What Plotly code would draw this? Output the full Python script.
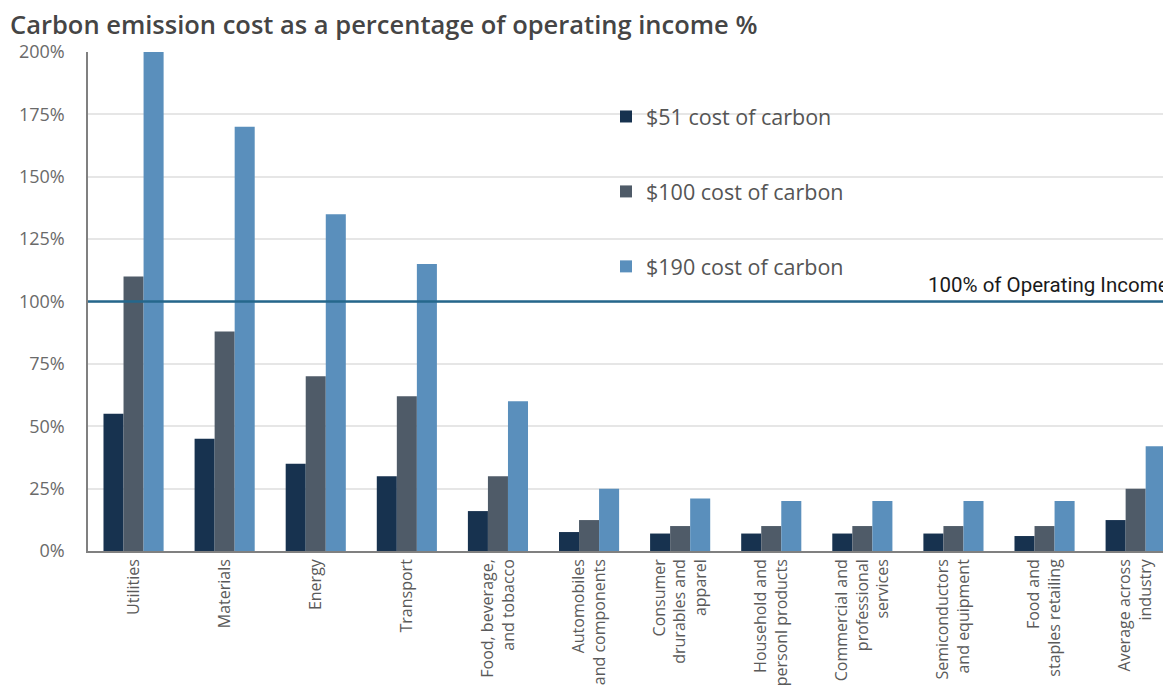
import plotly.graph_objects as go

categories = [
    "Utilities", "Materials", "Energy", "Transport",
    "Food, beverage,<br>and tobacco", "Automobiles<br>and components",
    "Consumer<br>drurables and<br>apparel", "Household and<br>personl products",
    "Commercial and<br>professional<br>services", "Semiconductors<br>and equipment",
    "Food and<br>staples retailing", "Average across<br>industry",
]
series_names = ["$51 cost of carbon", "$100 cost of carbon", "$190 cost of carbon"]
cost_51 = [55, 45, 35, 30, 16, 7.6, 7, 7, 7, 7, 6, 12.4]
cost_100 = [110, 88, 70, 62, 30, 12.4, 10, 10, 10, 10, 10, 25]
cost_190 = [200, 170, 135, 115, 60, 25, 21, 20, 20, 20, 20, 42]
y_ticks = [0, 25, 50, 75, 100, 125, 150, 175, 200]
threshold = 100

colors = ["#17324f", "#4f5b68", "#5a8fbc"]

OFF = 8  # default page body margin
W, H = 1171 - OFF, 691 - OFF
ML, MR, MT, MB = 88 - OFF, 0, 52 - OFF, 140
pw = W - ML - MR
ph = H - MT - MB
FONT = "Open Sans, sans-serif"


def px_x(x):
    return (x - 88) / pw


def px_y(y):
    return (551 - y) / ph


fig = go.Figure()
for i, (name, vals) in enumerate(zip(series_names, [cost_51, cost_100, cost_190])):
    fig.add_trace(go.Bar(
        x=list(range(len(categories))), y=vals, name=name,
        marker=dict(color=colors[i], line=dict(width=0)),
        legendgroup=f"g{i}",
    ))

# white background behind legend (hides gridlines)
fig.add_shape(type="rect", xref="paper", yref="paper",
              x0=px_x(525), x1=px_x(940), y0=px_y(282), y1=px_y(100),
              fillcolor="white", line=dict(width=0), layer="between")

fig.add_shape(type="line", xref="paper", yref="y", x0=0, x1=1,
              y0=threshold, y1=threshold,
              line=dict(color="#25678c", width=2.5), layer="above")

fig.add_annotation(xref="paper", yref="y", x=1, y=threshold,
                   xanchor="right", yanchor="bottom", yshift=3,
                   text="100% of Operating Income", showarrow=False,
                   font=dict(family="Roboto, sans-serif", size=20.5, color="#1a1a1a"))

fig.update_layout(
    width=W, height=H,
    margin=dict(l=ML, r=MR, t=MT, b=MB, pad=0),
    paper_bgcolor="white", plot_bgcolor="white",
    barmode="group", bargap=0.34, bargroupgap=0,
    title=dict(text="Carbon emission cost as a percentage of operating income %",
               x=(10 - OFF) / W, xanchor="left", y=1 - (25 - OFF) / H, yanchor="middle",
               font=dict(family=FONT, size=25.5, color="#454545", weight=600)),
    font=dict(family=FONT, color="#666666"),
    legend=dict(x=px_x(606), xanchor="left", y=px_y(96), yanchor="top",
                bgcolor="rgba(0,0,0,0)", font=dict(size=21.5, color="#555555"),
                tracegroupgap=44, itemwidth=30),
    showlegend=True,
)
fig.update_xaxes(
    tickmode="array", tickvals=list(range(len(categories))), ticktext=categories,
    tickangle=-90, range=[-0.5, -0.5 + (1171 - 88) / 91.1],
    showline=True, linecolor="#808080", linewidth=1.5,
    showgrid=False, ticks="", tickfont=dict(size=16, color="#5a5a5a"),
)
fig.update_yaxes(
    range=[0, 200], tickvals=y_ticks, ticktext=[f"{v}%" for v in y_ticks],
    showline=True, linecolor="#808080", linewidth=1.5,
    showgrid=True, gridcolor="#e6e6e6", gridwidth=1.5, zeroline=False,
    ticks="", ticklabelstandoff=18, tickfont=dict(size=18, color="#6a6a6a"),
)

fig.write_html("out.html")
